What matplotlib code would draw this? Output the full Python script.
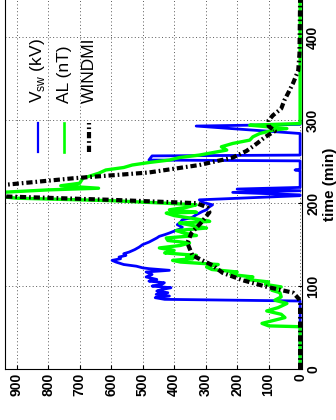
import matplotlib
matplotlib.use("Agg")
import matplotlib.pyplot as plt

plt.rcParams["font.family"] = ["Liberation Sans", "DejaVu Sans"]

# solar wind voltage (kV) vs time (min)
vsw_t = [0, 82, 84, 86, 88, 90, 92, 94, 96, 98, 100, 102, 104, 106, 108, 111, 114, 117, 119,
         121, 122, 124, 126, 129, 131, 133, 135, 137, 139, 141, 144, 147, 150, 153, 155, 158,
         160, 162, 164, 167, 169, 171, 174, 177, 180, 182, 183, 186, 188, 190, 192, 195, 198,
         201, 204, 209, 210, 213, 215, 217, 219, 221, 239, 240, 241, 251, 252, 257, 258, 284,
         293, 295, 298]
vsw_v = [0, 0, 430, 460, 415, 457, 420, 455, 437, 410, 470, 440, 431, 480, 455, 489, 470, 489, 415,
         480, 500, 520, 560, 585, 597, 570, 575, 553, 560, 543, 525, 511, 500, 480, 470, 455,
         447, 430, 415, 395, 380, 374, 390, 380, 374, 350, 342, 330, 320, 310, 297, 290, 278,
         310, 320, 0, 0, 214, 0, 200, 0, 0, 0, 16, 0, 0, 480, 470, 0, 0,
         330, 0, 0]

# AL index (nT)
al_t = [0, 51, 52, 55, 58, 62, 66, 70, 74, 79, 83, 87, 92, 95, 99, 102, 105, 108, 111, 114,
        117, 120, 123, 126, 129, 131, 133, 135, 137, 140, 143, 146, 149, 152, 155, 158, 161,
        164, 167, 170, 173, 176, 178, 181, 185, 188, 189, 192, 195, 198, 200, 203, 206, 209,
        213, 216, 218, 221, 224, 230, 236, 240, 243, 246, 249, 252, 255, 258, 264, 268, 272,
        276, 280, 284, 288, 290, 292, 294, 296, 445]
al_v = [0, 0, 100, 121, 90, 48, 60, 106, 70, 42, 80, 60, 64, 90, 60, 110, 100, 170, 150, 220,
        200, 280, 297, 260, 380, 405, 340, 360, 329, 430, 400, 447, 380, 351, 420, 425, 329,
        370, 393, 297, 340, 383, 287, 330, 400, 425, 329, 415, 360, 330, 430, 600, 900, 980,
        950, 800, 640, 760, 700, 690, 640, 617, 560, 533, 480, 415, 383, 320, 233, 250, 214,
        160, 150, 128, 86, 42, 100, 160, 0, 0]

# WINDMI model output
wm_t = [0, 80, 85, 92, 99, 107, 116, 125, 137, 152, 164, 177, 189, 195, 200, 204, 208, 212,
        218, 222, 230, 237, 246, 255, 263, 272, 280, 287, 293, 300, 306, 314, 324, 335, 345,
        360, 380, 445]
wm_v = [0, 0, 5, 22, 105, 182, 246, 278, 342, 358, 345, 313, 288, 294, 330, 600, 930, 1000,
        1000, 940, 720, 480, 320, 214, 170, 137, 110, 80, 100, 100, 86, 60, 50, 35, 22,
        6, 2, 0]

vticks = [0, 100, 200, 300, 400, 500, 600, 700, 800, 900]
tticks = [0, 100, 200, 300, 400]

wm_style = (0, (1.5, 0.7, 0.4, 0.7))

fig = plt.figure(figsize=(3.36, 4.2), dpi=100)
ax = fig.add_axes([5 / 336, 51 / 420, 297 / 336, 369 / 420])

ax.plot(vsw_v, vsw_t, color="#0000ff", lw=2.0)
ax.plot(al_v, al_t, color="#00ff00", lw=2.4)
ax.plot(wm_v, wm_t, color="black", lw=3.0, linestyle=wm_style)

ax.set_xlim(937, -6)
ax.set_ylim(0, 445)
ax.set_xticks(vticks)
ax.set_xticklabels([str(v) for v in vticks], rotation=90, fontweight="bold", fontsize=10)
ax.set_yticks(tticks)
ax.yaxis.tick_right()
ax.yaxis.set_label_position("right")
ax.set_yticklabels([str(t) for t in tticks], rotation=90, va="center",
                   fontweight="bold", fontsize=10)
ax.set_ylabel("time (min)", rotation=90, fontweight="bold", fontsize=11, labelpad=2)
ax.tick_params(direction="in", length=3, pad=3)
ax.spines["top"].set_visible(False)
ax.grid(True, linestyle=(0, (1, 2.5)), color="0.35", linewidth=0.7)

# legend drawn by hand (rotated with the plot)
leg_x = [0.111, 0.199, 0.283]
leg_labels = ["V$_{\\mathregular{sw}}$ (kV)", "AL (nT)", "WINDMI"]
ax.plot([leg_x[0]] * 2, [0.588, 0.667], transform=ax.transAxes, color="#0000ff", lw=1.6)
ax.plot([leg_x[1]] * 2, [0.588, 0.667], transform=ax.transAxes, color="#00ff00", lw=1.9)
ax.plot([leg_x[2]] * 2, [0.588, 0.667], transform=ax.transAxes, color="black", lw=3.0,
        linestyle=wm_style)
for x, lab in zip(leg_x, leg_labels):
    ax.text(x, 0.721, lab, transform=ax.transAxes, rotation=90, ha="center", va="bottom",
            fontsize=12.5)

fig.savefig("out.png", dpi=100)
